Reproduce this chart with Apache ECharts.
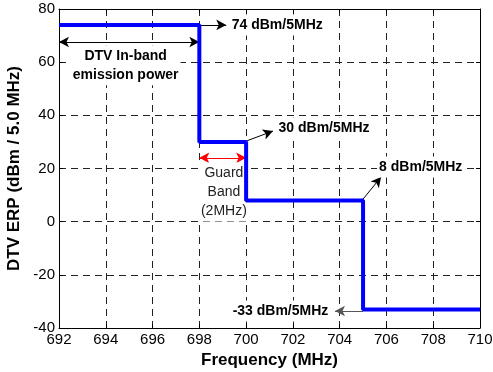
<!DOCTYPE html>
<html>
<head>
<meta charset="utf-8">
<script src="https://cdn.jsdelivr.net/npm/echarts@6/dist/echarts.min.js"></script>
<style>html,body{margin:0;padding:0;background:#fff}#c{width:493px;height:372px}</style>
</head>
<body>
<div id="c"></div>
<script>
// Step mask: band edges (MHz) and level (dBm/5MHz) of each band
var edges = [692, 698, 700, 705, 710];
var levels = [74, 30, 8, -33];
var xTicks = [692, 694, 696, 698, 700, 702, 704, 706, 708, 710];
var yTicks = [-40, -20, 0, 20, 40, 60, 80];
// annotation texts
var levelTexts = ['74 dBm/5MHz', '30 dBm/5MHz', '8 dBm/5MHz', '-33 dBm/5MHz'];
var inbandText = 'DTV In-band\nemission power';
var guardText = 'Guard\nBand\n(2MHz)';

var stepData = [];
for (var i = 0; i < levels.length; i++) stepData.push([edges[i], levels[i]]);
stepData.push([edges[edges.length - 1], levels[levels.length - 1]]);

var FONT = '"Liberation Sans", Arial, sans-serif';
var chart = echarts.init(document.getElementById('c'));

var arrowStyle = {color: '#000', width: 1, type: 'solid'};
function arrow(a, b, color, both) {
  return [{coord: a, symbol: both ? 'arrow' : 'none', lineStyle: {color: color || '#000', width: 1, type: 'solid'}},
          {coord: b, symbol: 'arrow'}];
}
function txt(coord, text, pos, bold) {
  return {coord: coord, symbol: 'circle', symbolSize: 0, itemStyle: {color: 'transparent'},
    label: {show: true, formatter: text, position: pos, distance: 0, color: bold ? '#000' : '#222',
      fontFamily: FONT, fontSize: 14, fontWeight: bold ? 'bold' : 'normal',
      backgroundColor: '#fff', padding: [1, 2], lineHeight: 19, align: pos === 'inside' ? 'center' : undefined}};
}
function axisBase(extra) {
  var o = {
    axisLine: {show: true, onZero: false, lineStyle: {color: '#000', width: 1}},
    axisTick: {show: true, inside: true, length: 4, lineStyle: {color: '#000'}}
  };
  for (var k in extra) o[k] = extra[k];
  return o;
}

chart.setOption({
  animation: false,
  backgroundColor: '#fff',
  grid: {left: 59, right: 13, top: 9, bottom: 44, containLabel: false, outerBoundsMode: 'none'},
  xAxis: [axisBase({
    type: 'value', min: xTicks[0], max: xTicks[xTicks.length - 1], interval: 2, position: 'bottom',
    name: 'Frequency (MHz)', nameLocation: 'middle', nameGap: 21,
    nameTextStyle: {fontFamily: FONT, fontSize: 17, fontWeight: 'bold', color: '#000'},
    axisLabel: {fontFamily: FONT, fontSize: 15, color: '#000', margin: 4},
    splitLine: {show: true, lineStyle: {color: '#222', type: [7, 5], width: 1}}
  }), axisBase({
    type: 'value', min: xTicks[0], max: xTicks[xTicks.length - 1], interval: 2, position: 'top',
    axisLabel: {show: false}, splitLine: {show: false}
  })],
  yAxis: [axisBase({
    type: 'value', min: yTicks[0], max: yTicks[yTicks.length - 1], interval: 20, position: 'left',
    name: 'DTV ERP (dBm / 5.0 MHz)', nameLocation: 'middle', nameGap: 30,
    nameTextStyle: {fontFamily: FONT, fontSize: 17, fontWeight: 'bold', color: '#000'},
    axisLabel: {fontFamily: FONT, fontSize: 15, color: '#000', margin: 4},
    splitLine: {show: true, lineStyle: {color: '#222', type: [7, 5], width: 1}}
  }), axisBase({
    type: 'value', min: yTicks[0], max: yTicks[yTicks.length - 1], interval: 20, position: 'right',
    axisLabel: {show: false}, splitLine: {show: false}
  })],
  series: [{
    type: 'line', step: 'end', data: stepData, showSymbol: false, symbol: 'none',
    lineStyle: {color: '#0000ff', width: 4}, z: 5
  }, {
    type: 'line', data: [], silent: true, z: 6,
    markLine: {
      silent: true, symbol: ['none', 'arrow'], symbolSize: [8, 10],
      label: {show: false}, lineStyle: arrowStyle,
      data: [
        arrow([698, 74], [699.15, 74]),
        arrow([692, 67.6], [698, 67.6], '#000', true),
        arrow([700, 30.3], [701.15, 34.1]),
        arrow([698, 24], [700, 24], '#ff0000', true),
        arrow([705, 8.5], [705.77, 16.8]),
        arrow([705, -33.6], [703.8, -33.6], '#555')
      ]
    },
    markPoint: {
      silent: true,
      data: [
        txt([699.3, 74], levelTexts[0], 'right', true),
        txt([701.3, 35.3], levelTexts[1], 'right', true),
        txt([705.6, 20.6], levelTexts[2], 'right', true),
        txt([703.6, -33.6], levelTexts[3], 'left', true),
        txt([694.85, 58.8], inbandText, 'inside', true),
        txt([699.05, 11.2], guardText, 'inside', false)
      ]
    }
  }]
});
</script>
</body>
</html>
